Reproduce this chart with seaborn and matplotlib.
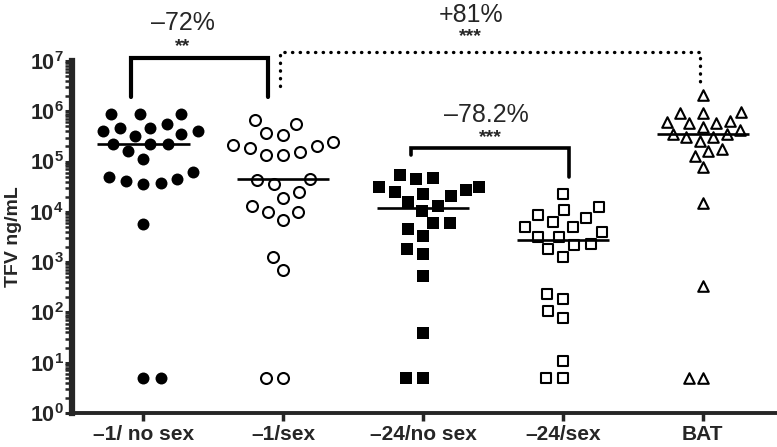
import numpy as np
import pandas as pd
import matplotlib
matplotlib.use("Agg")
import matplotlib.pyplot as plt
import seaborn as sns

sns.set_style("ticks")
plt.rcParams['font.family'] = ['Liberation Sans', 'DejaVu Sans']
plt.rcParams['mathtext.fontset'] = 'custom'
plt.rcParams['mathtext.rm'] = 'Liberation Sans'
plt.rcParams['mathtext.bf'] = 'Liberation Sans:bold'

# data (TFV ng/mL)
categories = ['\u20131/ no sex', '\u20131/sex', '\u201324/no sex', '\u201324/sex', 'BAT']
m1_nosex = [8.8e5, 8.8e5, 8.8e5, 5.6e5, 4.7e5, 4.7e5, 4.1e5, 4.1e5, 3.5e5, 3.2e5,
            2.2e5, 2.2e5, 2.2e5, 1.6e5, 1.1e5, 6.2e4, 4.9e4, 4.5e4, 4.1e4, 3.7e4,
            3.6e4, 5.7e3, 5, 5]
m1_sex = [6.7e5, 5.6e5, 3.7e5, 3.4e5, 2.4e5, 2.1e5, 2.0e5, 1.9e5, 1.55e5, 1.35e5,
          1.35e5, 4.5e4, 4.3e4, 3.6e4, 2.5e4, 1.9e4, 1.3e4, 1.0e4, 1.0e4, 6.9e3,
          1.26e3, 6.9e2, 5, 5]
m24_nosex = [5.4e4, 4.7e4, 4.5e4, 3.1e4, 3.1e4, 2.7e4, 2.5e4, 2.3e4, 2.1e4, 1.6e4,
             1.3e4, 1.05e4, 6.0e3, 6.0e3, 4.6e3, 3.3e3, 1.8e3, 1.45e3, 5.3e2, 39, 5, 5]
m24_sex = [2.3e4, 1.25e4, 1.1e4, 8.7e3, 7.6e3, 6.3e3, 5.0e3, 5.0e3, 4.0e3, 3.2e3,
           3.2e3, 2.3e3, 2.2e3, 1.8e3, 1.26e3, 2.3e2, 1.85e2, 1.07e2, 78, 11, 5, 5]
bat = [2.1e6, 9.6e5, 9.2e5, 9.2e5, 6.4e5, 6.1e5, 5.8e5, 5.8e5, 4.9e5, 4.2e5,
       3.5e5, 3.5e5, 3.1e5, 3.1e5, 2.6e5, 1.8e5, 1.6e5, 1.3e5, 7.8e4, 1.5e4,
       3.3e2, 5, 5]

groups = [m1_nosex, m1_sex, m24_nosex, m24_sex, bat]
df = pd.concat([pd.DataFrame({'group': c, 'tfv': v}) for c, v in zip(categories, groups)],
               ignore_index=True)

# marker, facecolor, edge width, swarm spacing (pt), visible marker size (pt)
styles = [('o', 'black', 0.0, 11.9, 8.6),
          ('o', 'white', 1.5, 11.9, 7.9),
          ('s', 'black', 0.0, 11.5, 8.4),
          ('s', 'white', 1.5, 11.5, 7.3),
          ('^', 'white', 1.5, 9.6, 7.6)]

fig = plt.figure(figsize=(7.77, 4.47), dpi=100)
ax = fig.add_axes([0.0927, 0.0761, 0.9073, 0.7875])

visible = []
for cat, (mk, fc, lw, spacing, vis) in zip(categories, styles):
    sub = df[df['group'] == cat]
    sns.swarmplot(data=sub, x='group', y='tfv', order=categories, ax=ax,
                  marker=mk, color=fc, edgecolor='black', linewidth=lw,
                  size=spacing - lw, log_scale=True, zorder=3)
    visible.append(vis)

ax.set_yscale('log')
ax.set_ylim(1, 1e7)
ax.set_xlim(-0.51, 4.53)

# let the swarm layout run once with the wider spacing, then freeze it
# and shrink the markers so there are small gaps like in the original
fig.canvas.draw()
swarm_colls = [c for c in ax.collections if 'draw' in c.__dict__]
for coll, vis in zip(swarm_colls, visible):
    del coll.draw
    coll.set_sizes([vis ** 2])

# median lines
for i, cat in enumerate(categories):
    med = np.median(df.loc[df['group'] == cat, 'tfv'])
    ax.hlines(med, i - 0.33, i + 0.33, color='black', lw=1.9, zorder=5)

ax.set_yticks([10.0 ** k for k in range(8)])
ax.yaxis.set_major_formatter(matplotlib.ticker.FuncFormatter(
    lambda v, p: r'$\mathbf{10^{%d}}$' % int(round(np.log10(v)))))
ax.yaxis.set_minor_locator(matplotlib.ticker.LogLocator(base=10, subs=np.arange(2, 10)))
ax.yaxis.set_minor_formatter(matplotlib.ticker.NullFormatter())
ax.set_xticks(range(len(categories)))
ax.set_xticklabels(categories, fontsize=15, fontweight='bold')
ax.set_xlabel('')
ax.set_ylabel('TFV ng/mL', fontsize=14, fontweight='bold')
ax.yaxis.set_label_coords(-0.071, 0.5)

sns.despine(ax=ax)
ax.spines['left'].set_linewidth(4.5)
ax.spines['bottom'].set_linewidth(2.8)
ax.tick_params(axis='y', which='major', length=5, width=2.2, pad=1, labelsize=15.5)
ax.tick_params(axis='y', which='minor', length=5, width=1.8)
ax.tick_params(axis='x', which='major', length=6, width=2.5, pad=3)

# significance brackets
ax.plot([-0.09, -0.09, 0.89, 0.89], [1.9e6, 1.15e7, 1.15e7, 1.9e6],
        color='black', lw=3, clip_on=False, solid_joinstyle='miter')
ax.text(0.28, 5.6e7, '\u201372%', ha='center', va='center', fontsize=18)
ax.text(0.28, 1.9e7, '**', ha='center', va='center', fontsize=14, fontweight='bold')

ax.plot([0.98, 0.98, 3.98, 3.98], [3.2e6, 1.5e7, 1.5e7, 3.2e6],
        color='black', lw=2.4, ls=(0, (0.1, 2.2)), dash_capstyle='round', clip_on=False)
ax.text(2.34, 8.1e7, '+81%', ha='center', va='center', fontsize=18)
ax.text(2.34, 3.1e7, '***', ha='center', va='center', fontsize=14, fontweight='bold')

ax.plot([1.91, 1.91, 3.04, 3.04], [1.35e5, 1.86e5, 1.86e5, 4.9e4],
        color='black', lw=2.6, solid_joinstyle='miter')
ax.text(2.45, 8.4e5, '\u201378.2%', ha='center', va='center', fontsize=18)
ax.text(2.48, 3.0e5, '***', ha='center', va='center', fontsize=14, fontweight='bold')

fig.savefig('out.png', dpi=100)
